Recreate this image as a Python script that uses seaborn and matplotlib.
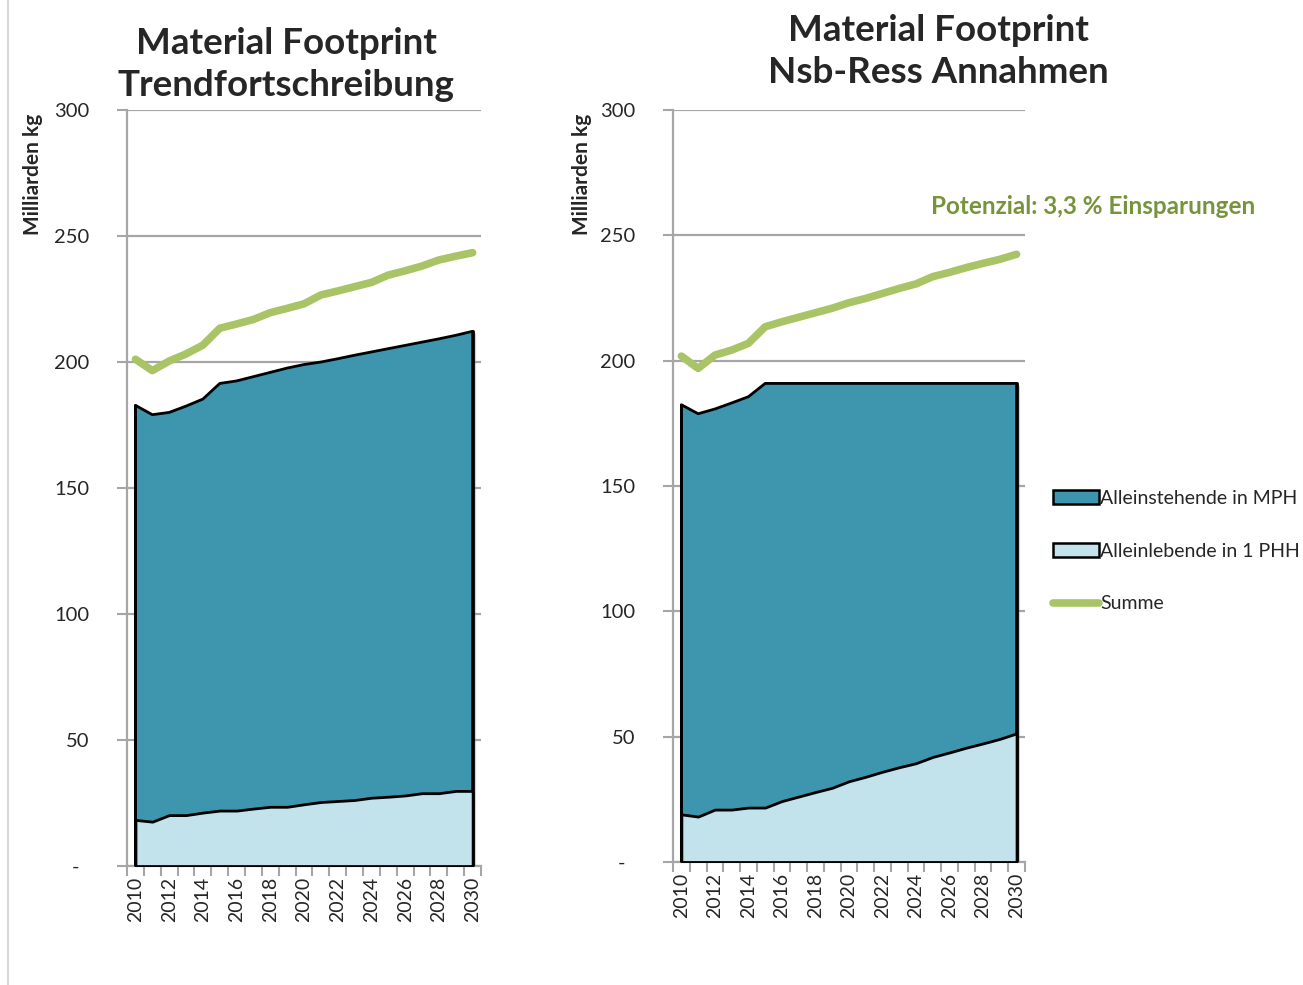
import matplotlib
matplotlib.use("Agg")
import matplotlib.pyplot as plt
import matplotlib.patheffects as pe
from matplotlib.lines import Line2D
from matplotlib.patches import Patch
from matplotlib.ticker import FixedLocator, FixedFormatter
import numpy as np
import pandas as pd
import seaborn as sns

# ---- data (Milliarden kg) ----
years = list(range(2010, 2031))

# Trendfortschreibung
trend_1phh = [18.3, 17.6, 20.2, 20.2, 21.2, 22.0, 22.0, 22.8, 23.5, 23.5, 24.5,
              25.4, 25.8, 26.2, 27.1, 27.5, 28.0, 28.9, 28.9, 29.8, 29.8]
trend_mph = [164.5, 161.5, 159.8, 162.3, 164.1, 169.5, 170.5, 171.4, 172.4, 174.1, 174.5,
             174.6, 175.5, 176.5, 176.9, 177.8, 178.6, 179.0, 180.3, 180.8, 182.4]
trend_summe = [201.1, 196.6, 200.4, 203.2, 206.7, 213.4, 215.1, 216.9, 219.6, 221.3, 223.1,
               226.6, 228.2, 229.9, 231.6, 234.5, 236.2, 238.1, 240.5, 242.0, 243.4]

# Nsb-Ress Annahmen
ress_1phh = [19.0, 18.1, 20.9, 20.9, 21.7, 21.7, 24.3, 26.1, 27.9, 29.6, 32.2,
             34.0, 36.0, 37.8, 39.4, 41.9, 43.7, 45.6, 47.3, 49.1, 51.3]
ress_mph = [163.4, 160.7, 159.8, 162.2, 163.9, 169.2, 166.6, 164.8, 163.0, 161.3, 158.7,
            156.9, 154.9, 153.1, 151.5, 149.0, 147.2, 145.3, 143.6, 141.8, 139.6]
ress_summe = [201.8, 196.9, 202.2, 204.2, 206.9, 213.5, 215.5, 217.3, 219.1, 220.9, 223.1,
              224.8, 226.8, 228.8, 230.6, 233.5, 235.2, 237.1, 238.8, 240.4, 242.4]

titles = ["Material Footprint\nTrendfortschreibung", "Material Footprint\nNsb-Ress Annahmen"]
series_names = ["Alleinstehende in MPH", "Alleinlebende in 1 PHH", "Summe"]
y_ticks = [0, 50, 100, 150, 200, 250, 300]
y_ticklabels = ["-  ", "50", "100", "150", "200", "250", "300"]
ylabel = "Milliarden kg"
note = "Potenzial: 3,3 % Einsparungen"

# ---- style ----
sns.set_theme(style="white")
plt.rcParams["font.family"] = ["Lato", "DejaVu Sans"]

C_MPH = "#3d96ad"
C_PHH = "#c3e3ec"
C_SUM = "#a9c467"
C_GRID = "#a6a6a6"
C_NOTE = "#77933c"

fig = plt.figure(figsize=(13.03, 9.85), dpi=100)
ax_l = fig.add_axes([0.0975, 0.1208, 0.2717, 0.7675])
ax_r = fig.add_axes([0.5165, 0.1249, 0.2701, 0.7635])

shadow = [pe.SimplePatchShadow(offset=(2.5, -1.5), shadow_rgbFace="#808080", alpha=0.35), pe.Normal()]

panels = [
    (ax_l, trend_1phh, trend_mph, trend_summe),
    (ax_r, ress_1phh, ress_mph, ress_summe),
]

for ax, phh, mph, summe in panels:
    df = pd.DataFrame({"Jahr": years, "PHH": phh, "MPH": mph, "Summe": summe})
    total = df["PHH"] + df["MPH"]

    # stacked areas: 1-PHH at the bottom, MPH on top
    ax.fill_between(df["Jahr"], 0, total, facecolor=C_MPH, edgecolor="black",
                    linewidth=2, zorder=3, path_effects=shadow)
    ax.fill_between(df["Jahr"], 0, df["PHH"], facecolor=C_PHH, edgecolor="black",
                    linewidth=2, zorder=4)
    ax.plot([years[0], years[0]], [0, total.iloc[0]], color="black", lw=2, zorder=5)
    ax.plot([years[-1], years[-1]], [0, total.iloc[-1]], color="black", lw=2, zorder=5)

    sns.lineplot(data=df, x="Jahr", y="Summe", ax=ax, color=C_SUM, linewidth=5.5,
                 solid_capstyle="round", solid_joinstyle="round", zorder=6, legend=False)

    ax.set_xlim(2009.5, 2030.5)
    ax.set_ylim(0, 300)
    ax.set_xlabel("")
    ax.set_ylabel("")

    # y axis
    ax.yaxis.set_major_locator(FixedLocator(y_ticks))
    ax.yaxis.set_major_formatter(FixedFormatter(y_ticklabels))
    ax.tick_params(axis="y", which="major", direction="out", length=7, width=1.5,
                   color=C_GRID, pad=20, labelsize=14.5, left=True)
    ax.grid(axis="y", color=C_GRID, linewidth=1.6, zorder=1)
    ax.set_axisbelow(True)

    # x axis: labels on even years, tick marks on category boundaries
    ax.xaxis.set_major_locator(FixedLocator(years[::2]))
    ax.xaxis.set_major_formatter(FixedFormatter([str(y) for y in years[::2]]))
    ax.xaxis.set_minor_locator(FixedLocator(np.arange(2009.5, 2031, 1.0)))
    ax.tick_params(axis="x", which="major", length=0, pad=8, labelsize=14,
                   labelrotation=90, bottom=True)
    ax.tick_params(axis="x", which="minor", direction="out", length=7, width=1.5,
                   color=C_GRID, bottom=True)

    for s in ["top", "right"]:
        ax.spines[s].set_visible(False)
    for s in ["left", "bottom"]:
        ax.spines[s].set_color(C_GRID)
        ax.spines[s].set_linewidth(1.6)
    ax.patch.set_alpha(0)

# titles
fig.text(0.2195, 0.9345, titles[0], ha="center", va="center", fontsize=26.5,
         fontweight="bold", linespacing=1.32)
fig.text(0.7199, 0.9477, titles[1], ha="center", va="center", fontsize=26.5,
         fontweight="bold", linespacing=1.32)

# y labels
fig.text(0.0255, 0.823, ylabel, rotation=90, ha="center", va="center",
         fontsize=15, fontweight="bold")
fig.text(0.4465, 0.823, ylabel, rotation=90, ha="center", va="center",
         fontsize=15, fontweight="bold")

# savings note
fig.text(0.8388, 0.790, note, ha="center", va="center", fontsize=17.5,
         fontweight="bold", color=C_NOTE)

# thin frame line at the left edge
fig.add_artist(Line2D([0.0065, 0.0065], [0.0, 1.0], color="#d0d0d0", lw=1.2,
                      transform=fig.transFigure))

# legend
handles = [
    Patch(facecolor=C_MPH, edgecolor="black", linewidth=1.8, label=series_names[0]),
    Patch(facecolor=C_PHH, edgecolor="black", linewidth=1.8, label=series_names[1]),
    Line2D([0], [0], color=C_SUM, lw=5.5, solid_capstyle="round", label=series_names[2]),
]
fig.legend(handles=handles, loc="upper left", bbox_to_anchor=(0.808, 0.503),
           frameon=False, fontsize=14, handlelength=2.35, handleheight=0.75,
           handletextpad=0.1, labelspacing=1.85, borderaxespad=0, borderpad=0)

fig.savefig("out.png", dpi=100)
